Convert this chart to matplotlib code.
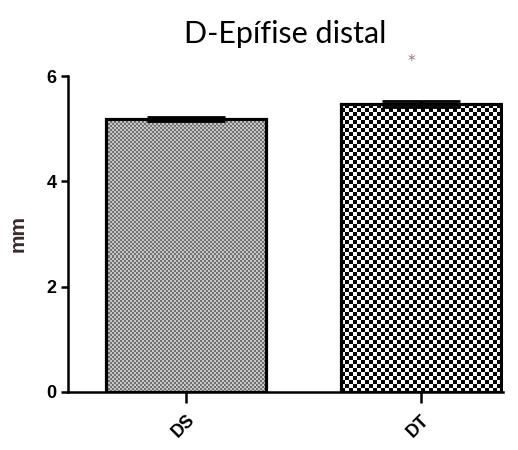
import numpy as np
import matplotlib.pyplot as plt

groups = ['DS', 'DT']
means = [5.18, 5.47]
errors = [0.04, 0.05]
yticks = [0, 2, 4, 6]

fig = plt.figure(figsize=(5.18, 4.5), dpi=100)
ax = fig.add_axes([0.131, 0.129, 0.84, 0.702])

x = np.arange(len(groups))
bars = ax.bar(x, means, width=0.68, facecolor='none', edgecolor='black', linewidth=2.3, zorder=3)
ax.errorbar(x, means, yerr=errors, fmt='none', ecolor='black', elinewidth=2.0,
            capsize=28, capthick=2.0, zorder=4)

# checker textures inside the bars
def checker(bar, ncol, nrow, c1, c2):
    b = np.indices((nrow, ncol)).sum(axis=0) % 2
    img = np.where(b[..., None] == 1, c1, c2)
    x0, w, h = bar.get_x(), bar.get_width(), bar.get_height()
    im = ax.imshow(img, extent=[x0, x0 + w, 0, h], interpolation='nearest',
                   aspect='auto', zorder=2)
    im.set_clip_path(bar)

checker(bars[0], 80, 136, np.array([0.45, 0.45, 0.45]), np.array([0.78, 0.78, 0.78]))
checker(bars[1], 40, 72, np.array([0.0, 0.0, 0.0]), np.array([1.0, 1.0, 1.0]))

ax.text(x[1] - 0.04, 6.28, '*', ha='center', va='center', fontsize=11, color='#9a7080')

ax.set_xlim(-0.502, 1.349)
ax.set_ylim(0, 6)
ax.set_yticks(yticks)
ax.set_xticks(x)
ax.set_xticklabels(groups, rotation=45, ha='right', rotation_mode='anchor',
                   fontsize=13, fontweight='bold', family='Liberation Sans')
for lab in ax.get_yticklabels():
    lab.set_fontsize(13)
    lab.set_fontweight('bold')
    lab.set_family('Liberation Sans')
ax.tick_params(axis='y', length=5, width=1.8, pad=3)
ax.tick_params(axis='x', length=8, width=1.8, pad=6)
ax.spines['top'].set_visible(False)
ax.spines['right'].set_visible(False)
ax.spines['left'].set_linewidth(1.8)
ax.spines['bottom'].set_linewidth(1.8)
ax.set_ylabel('mm', fontsize=15, fontweight='bold', family='Liberation Sans', color='#3a2a2a', labelpad=14)
ax.set_title('D-Epífise distal', fontsize=22, family='Lato', pad=24)

fig.savefig('out.png', dpi=100)
